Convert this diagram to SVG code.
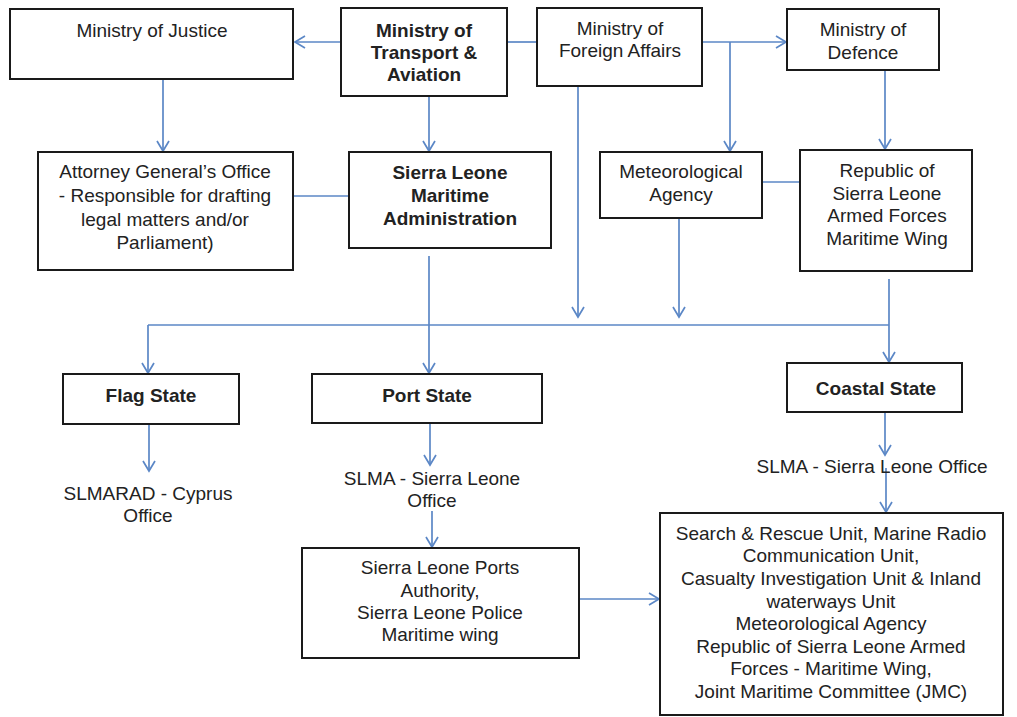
<svg xmlns="http://www.w3.org/2000/svg" width="1017" height="717" viewBox="0 0 1017 717">
<style>
.box{fill:#fff;stroke:#1a1a1a;stroke-width:2}
text{font-family:"Liberation Sans",Arial,sans-serif;font-size:19px;fill:#222;text-anchor:middle}
.b{font-weight:bold}
.c{fill:none;stroke:#5b87c6;stroke-width:1.7}
</style>
<defs>
<marker id="ah" markerUnits="userSpaceOnUse" markerWidth="14" markerHeight="16" refX="11" refY="7" orient="auto">
<path d="M1,1 L11,7 L1,13" fill="none" stroke="#5b87c6" stroke-width="1.7"/>
</marker>
</defs>
<rect width="1017" height="717" fill="#fff"/>
<g id="connectors">
<path class="c" d="M341,42 H295" marker-end="url(#ah)"/>
<path class="c" d="M507,42 H537"/>
<path class="c" d="M702,42 H786" marker-end="url(#ah)"/>
<path class="c" d="M730,42 V151" marker-end="url(#ah)"/>
<path class="c" d="M578,86 V317" marker-end="url(#ah)"/>
<path class="c" d="M885,70 V149" marker-end="url(#ah)"/>
<path class="c" d="M163,79 V151" marker-end="url(#ah)"/>
<path class="c" d="M429,96 V151" marker-end="url(#ah)"/>
<path class="c" d="M293,196 H349"/>
<path class="c" d="M762,182 H800"/>
<path class="c" d="M679,218 V317" marker-end="url(#ah)"/>
<path class="c" d="M429,256 V373" marker-end="url(#ah)"/>
<path class="c" d="M148,325 H889"/>
<path class="c" d="M148,325 V373" marker-end="url(#ah)"/>
<path class="c" d="M889,279 V362" marker-end="url(#ah)"/>
<path class="c" d="M149,424 V471" marker-end="url(#ah)"/>
<path class="c" d="M430,423 V465" marker-end="url(#ah)"/>
<path class="c" d="M432,511 V547" marker-end="url(#ah)"/>
<path class="c" d="M885,412 V455" marker-end="url(#ah)"/>
<path class="c" d="M886,468 V512" marker-end="url(#ah)"/>
<path class="c" d="M579,599 H659" marker-end="url(#ah)"/>
</g>
<g id="mojustice">
<rect class="box" x="10" y="9" width="283" height="70"/>
<text x="152" y="37">Ministry of Justice</text>
</g>
<g id="motransport">
<rect class="box" x="341" y="8" width="166" height="88"/>
<text class="b" x="424" y="37">Ministry of</text>
<text class="b" x="424" y="59">Transport &amp;</text>
<text class="b" x="424" y="81">Aviation</text>
</g>
<g id="moforeign">
<rect class="box" x="537" y="8" width="165" height="78"/>
<text x="620" y="35">Ministry of</text>
<text x="620" y="57">Foreign Affairs</text>
</g>
<g id="modefence">
<rect class="box" x="787" y="9" width="152" height="61"/>
<text x="863" y="36">Ministry of</text>
<text x="863" y="59">Defence</text>
</g>
<g id="attorney">
<rect class="box" x="38" y="152" width="255" height="118"/>
<text x="165" y="178">Attorney General’s Office</text>
<text x="165" y="202">- Responsible for drafting</text>
<text x="165" y="226">legal matters and/or</text>
<text x="165" y="249">Parliament)</text>
</g>
<g id="slma">
<rect class="box" x="349" y="152" width="202" height="96"/>
<text class="b" x="450" y="179">Sierra Leone</text>
<text class="b" x="450" y="202">Maritime</text>
<text class="b" x="450" y="225">Administration</text>
</g>
<g id="meteo">
<rect class="box" x="600" y="152" width="162" height="66"/>
<text x="681" y="178">Meteorological</text>
<text x="681" y="201">Agency</text>
</g>
<g id="rslaf">
<rect class="box" x="800" y="150" width="172" height="121"/>
<text x="887" y="177">Republic of</text>
<text x="887" y="200">Sierra Leone</text>
<text x="887" y="222">Armed Forces</text>
<text x="887" y="245">Maritime Wing</text>
</g>
<g id="flagstate">
<rect class="box" x="63" y="374" width="176" height="50"/>
<text class="b" x="151" y="402">Flag State</text>
</g>
<g id="portstate">
<rect class="box" x="312" y="374" width="230" height="49"/>
<text class="b" x="427" y="402">Port State</text>
</g>
<g id="coastalstate">
<rect class="box" x="787" y="363" width="175" height="49"/>
<text class="b" x="876" y="395">Coastal State</text>
</g>
<g id="slmarad">
<text x="148" y="500">SLMARAD - Cyprus</text>
<text x="148" y="522">Office</text>
</g>
<g id="slmaport">
<text x="432" y="485">SLMA - Sierra Leone</text>
<text x="432" y="507">Office</text>
</g>
<g id="slmacoastal">
<text x="872" y="473">SLMA - Sierra Leone Office</text>
</g>
<g id="portsauthority">
<rect class="box" x="302" y="548" width="277" height="110"/>
<text x="440" y="574">Sierra Leone Ports</text>
<text x="440" y="597">Authority,</text>
<text x="440" y="619">Sierra Leone Police</text>
<text x="440" y="641">Maritime wing</text>
</g>
<g id="units">
<rect class="box" x="660" y="513" width="343" height="202"/>
<text x="831" y="540">Search &amp; Rescue Unit, Marine Radio</text>
<text x="831" y="562">Communication Unit,</text>
<text x="831" y="585">Casualty Investigation Unit &amp; Inland</text>
<text x="831" y="608">waterways Unit</text>
<text x="831" y="630">Meteorological Agency</text>
<text x="831" y="653">Republic of Sierra Leone Armed</text>
<text x="831" y="675">Forces - Maritime Wing,</text>
<text x="831" y="698">Joint Maritime Committee (JMC)</text>
</g>
</svg>
